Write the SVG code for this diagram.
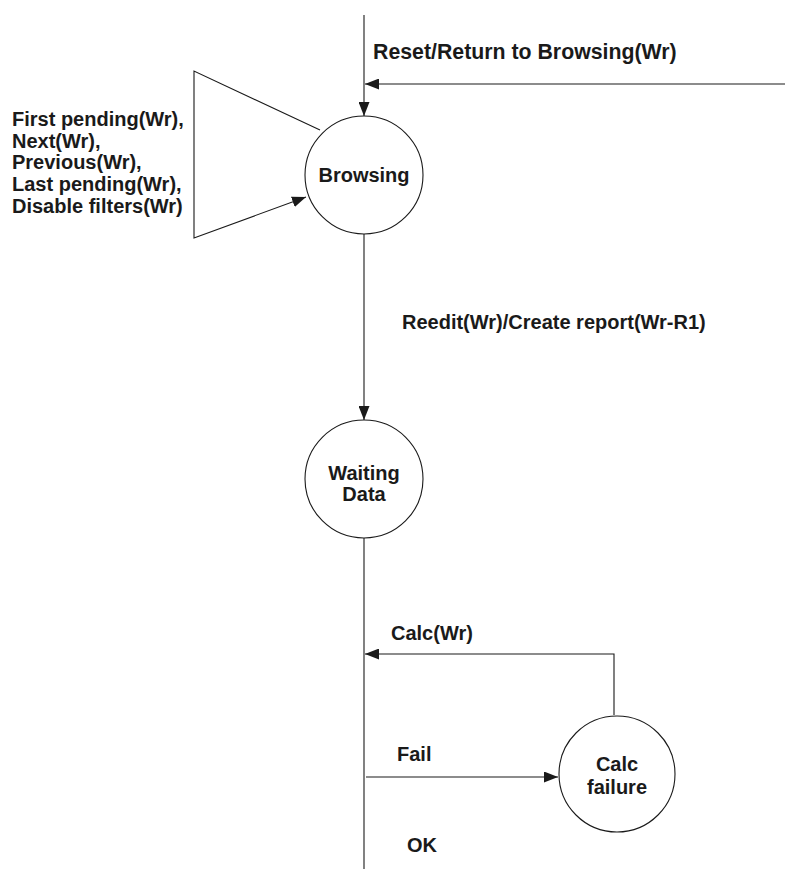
<svg xmlns="http://www.w3.org/2000/svg" width="785" height="869" viewBox="0 0 785 869">
  <style>
    .state { fill: #ffffff; stroke: #1a1a1a; stroke-width: 1.1; }
    .wire { fill: none; stroke: #1a1a1a; stroke-width: 1.1; }
    .lbl { font-family: "Liberation Sans", Arial, sans-serif; font-weight: bold; font-size: 20px; fill: #1a1a1a; }
    .mid { text-anchor: middle; }
  </style>
  <defs>
    <marker id="arrow" viewBox="0 0 14 11" refX="14" refY="5.5" markerWidth="14" markerHeight="11" markerUnits="userSpaceOnUse" orient="auto">
      <path d="M0,0 L14,5.5 L0,11 Z" fill="#1a1a1a"/>
    </marker>
  </defs>
  <rect width="785" height="869" fill="#ffffff"/>

  <g id="connectors">
    <!-- reset entry -->
    <line class="wire" x1="364" y1="15" x2="364" y2="116" marker-end="url(#arrow)"/>
    <line class="wire" x1="785" y1="84" x2="365" y2="84" marker-end="url(#arrow)"/>
    <!-- self loop on Browsing -->
    <polyline class="wire" points="320,130 194,71 194,238 306,197" marker-end="url(#arrow)"/>
    <!-- Browsing to Waiting Data -->
    <line class="wire" x1="364" y1="234" x2="364" y2="420" marker-end="url(#arrow)"/>
    <!-- trunk below Waiting Data -->
    <line class="wire" x1="364" y1="538" x2="364" y2="869"/>
    <!-- Calc(Wr) return -->
    <polyline class="wire" points="614,715 614,654 365,654" marker-end="url(#arrow)"/>
    <!-- Fail -->
    <line class="wire" x1="366" y1="777" x2="558" y2="777" marker-end="url(#arrow)"/>
  </g>

  <g id="node-browsing">
    <circle class="state" cx="364" cy="175" r="59"/>
    <text class="lbl mid" x="364" y="182">Browsing</text>
  </g>

  <g id="node-waiting-data">
    <circle class="state" cx="364" cy="479" r="59"/>
    <text class="lbl mid" x="364" y="480">Waiting</text>
    <text class="lbl mid" x="364" y="501">Data</text>
  </g>

  <g id="node-calc-failure">
    <circle class="state" cx="617" cy="774" r="58"/>
    <text class="lbl mid" x="617" y="771">Calc</text>
    <text class="lbl mid" x="617" y="794">failure</text>
  </g>

  <g id="labels">
    <text class="lbl" x="373" y="59" style="font-size:21.3px">Reset/Return to Browsing(Wr)</text>
    <text class="lbl" x="12" y="126">First pending(Wr),</text>
    <text class="lbl" x="12" y="148">Next(Wr),</text>
    <text class="lbl" x="12" y="169">Previous(Wr),</text>
    <text class="lbl" x="12" y="191">Last pending(Wr),</text>
    <text class="lbl" x="12" y="213">Disable filters(Wr)</text>
    <text class="lbl" x="402" y="329">Reedit(Wr)/Create report(Wr-R1)</text>
    <text class="lbl" x="391" y="640">Calc(Wr)</text>
    <text class="lbl" x="397" y="761">Fail</text>
    <text class="lbl" x="407" y="852">OK</text>
  </g>
</svg>
